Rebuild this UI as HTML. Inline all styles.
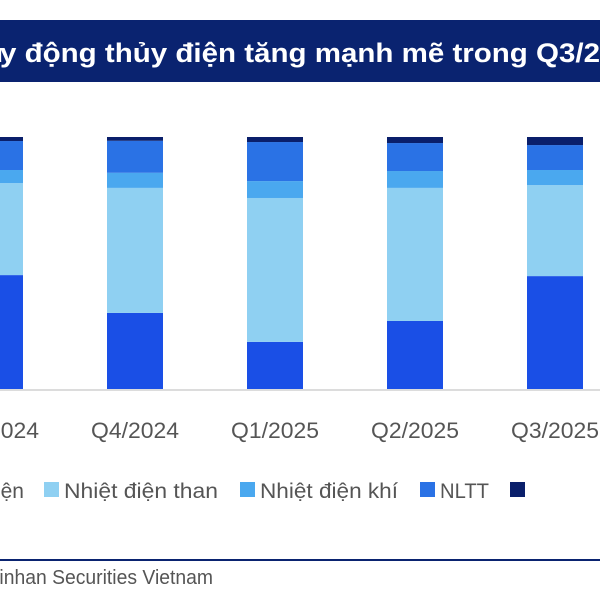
<!DOCTYPE html>
<html><head><meta charset="utf-8"><style>
html,body{margin:0;padding:0;background:#fff;}
svg{display:block;font-family:"Liberation Sans",sans-serif;}
</style></head><body>
<svg id="chart" width="600" height="600" viewBox="0 0 600 600">
<rect x="0" y="20" width="600" height="62" fill="#0a2370"/>
<text x="-33" y="62" fill="#fff" font-size="27" font-weight="bold"><tspan>Hu</tspan><tspan x="0" textLength="600" lengthAdjust="spacingAndGlyphs">y động thủy điện tăng mạnh mẽ trong Q3/2</tspan><tspan>025</tspan></text>
<line x1="0" y1="390" x2="600" y2="390" stroke="#d0d0d0" stroke-width="1.5"/>
<g id="bars"></g>
<g id="xlabels"></g>
<g>
<text x="24" y="498" text-anchor="end" font-size="21" fill="#555">Thủy điện</text>
<rect x="44" y="482" width="15" height="15" fill="#8fd0f2"/>
<text x="64" y="498" font-size="21" fill="#555" textLength="154" lengthAdjust="spacingAndGlyphs">Nhiệt điện than</text>
<rect x="240" y="482" width="15" height="15" fill="#4aa8ef"/>
<text x="260" y="498" font-size="21" fill="#555" textLength="138" lengthAdjust="spacingAndGlyphs">Nhiệt điện khí</text>
<rect x="420" y="482" width="15" height="15" fill="#2a72e5"/>
<text x="440" y="498" font-size="21" fill="#555" textLength="49" lengthAdjust="spacingAndGlyphs">NLTT</text>
<rect x="510" y="482" width="15" height="15" fill="#0a1f6b"/>
</g>
<line x1="0" y1="560" x2="600" y2="560" stroke="#0a2370" stroke-width="2"/>
<text x="213" y="584" text-anchor="end" font-size="20" fill="#555" textLength="305" lengthAdjust="spacingAndGlyphs">Nguồn: Shinhan Securities Vietnam</text>
</svg>
<script>
const categories = ["Q3/2024","Q4/2024","Q1/2025","Q2/2025","Q3/2025"];
const hydro = [45.2, 30.2, 18.7, 27.0, 44.8];
const coal = [36.5, 49.6, 57.1, 52.8, 36.1];
const gas = [5.2, 6.0, 6.7, 6.7, 6.0];
const nltt = [11.5, 12.7, 15.5, 11.1, 9.9];
const other = [1.6, 1.5, 2.0, 2.4, 3.2];
const seriesNames = ["hydro","coal","gas","nltt","other"];
const colors = ["#1a4fe6","#8fd0f2","#4aa8ef","#2a72e5","#0a1f6b"];
const NS = "http://www.w3.org/2000/svg";
const x0 = -33, step = 140, bw = 56, yBase = 389, plotH = 252;
function xPos(i){ return x0 + i*step; }
function yScale(v){ return v/100*plotH; }
const series = [hydro, coal, gas, nltt, other];
const gb = document.getElementById('bars');
const gl = document.getElementById('xlabels');
categories.forEach((c,i)=>{
  let cum = 0;
  series.forEach((s,k)=>{
    const h = yScale(s[i]);
    const r = document.createElementNS(NS,'rect');
    r.setAttribute('x', xPos(i));
    r.setAttribute('y', yBase - yScale(cum) - h);
    r.setAttribute('width', bw);
    r.setAttribute('height', h);
    r.setAttribute('fill', colors[k]);
    
    
    gb.appendChild(r);
    cum += s[i];
  });
  const t = document.createElementNS(NS,'text');
  t.setAttribute('x', xPos(i)+bw/2);
  t.setAttribute('y', 438);
  t.setAttribute('text-anchor','middle');
  t.setAttribute('font-size','22');
  t.setAttribute('fill','#555');
  t.setAttribute('textLength','88');
  t.setAttribute('lengthAdjust','spacingAndGlyphs');
  t.textContent = c;
  
  
  gl.appendChild(t);
});
</script>
</body></html>
